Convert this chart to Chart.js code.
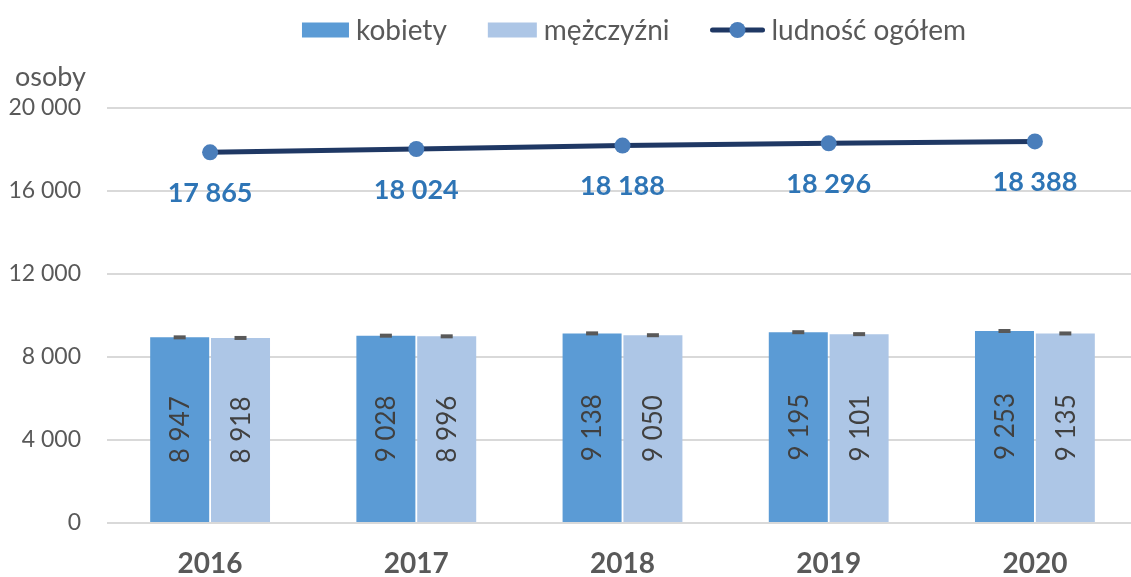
<!DOCTYPE html>
<html lang="pl">
<head>
<meta charset="utf-8">
<title>Ludność 2016–2020</title>
<script src="https://cdn.jsdelivr.net/npm/chart.js@4.4.1/dist/chart.umd.min.js"></script>
<style>
  html, body { margin: 0; padding: 0; background: #fff; overflow: hidden; }
  #wrap { position: relative; width: 1131px; height: 577px; overflow: hidden; }
  canvas { position: absolute; left: 0; top: 0; }
</style>
</head>
<body>
<div id="wrap">
  <canvas id="chart" width="1146" height="577"></canvas>
</div>
<script>
const years = ['2016', '2017', '2018', '2019', '2020'];
const women = [8947, 9028, 9138, 9195, 9253];
const men = [8918, 8996, 9050, 9101, 9135];
const total = [17865, 18024, 18188, 18296, 18388];
const yMax = 20000;
const yStep = 4000;
const unitLabel = 'osoby';

const colWomen = '#5b9bd5';
const colMen = '#adc6e6';
const colLine = '#1f3864';
const colPoint = '#4a7ebb';
const colLabel = '#2e75b6';
const colText = '#595959';
const fontFamily = 'Lato, "Open Sans", sans-serif';

// liczby z odstępem tysięcy, jak w oryginale
function fmt(v) {
  return String(v).replace(/\B(?=(\d{3})+(?!\d))/g, ' ');
}

const legendPlugin = {
  id: 'customLegend',
  afterDraw(chart) {
    const ctx = chart.ctx;
    const items = chart.data.datasets.map((ds) => ({ text: ds.label, ds }));
    ctx.save();
    ctx.font = '28px ' + fontFamily;
    ctx.textBaseline = 'middle';
    const iconW = [47, 49, 54];
    const textGap = 7;
    const itemGap = 41;
    let totalW = 0;
    items.forEach((it, i) => {
      it.w = iconW[i] + textGap + ctx.measureText(it.text).width;
      totalW += it.w + (i ? itemGap : 0);
    });
    let x = 634 - totalW / 2;
    const y = 30;
    items.forEach((it, i) => {
      if (it.ds.type === 'line') {
        ctx.strokeStyle = colLine;
        ctx.lineWidth = 5;
        ctx.lineCap = 'round';
        ctx.beginPath();
        ctx.moveTo(x + 2, y);
        ctx.lineTo(x + iconW[i] - 2, y);
        ctx.stroke();
        ctx.fillStyle = colPoint;
        ctx.beginPath();
        ctx.arc(x + iconW[i] / 2, y, 8, 0, Math.PI * 2);
        ctx.fill();
      } else {
        ctx.fillStyle = it.ds.backgroundColor;
        ctx.fillRect(x, y - 7.5, iconW[i], 15);
      }
      ctx.fillStyle = colText;
      ctx.textAlign = 'left';
      ctx.fillText(it.text, x + iconW[i] + textGap, y + 1);
      x += it.w + itemGap;
    });
    // jednostka nad osią Y
    ctx.font = '27px ' + fontFamily;
    ctx.fillText(unitLabel, 15, 77);
    ctx.restore();
  }
};

const labelsPlugin = {
  id: 'valueLabels',
  afterDatasetsDraw(chart) {
    const ctx = chart.ctx;
    ctx.save();
    chart.data.datasets.forEach((ds, di) => {
      const meta = chart.getDatasetMeta(di);
      meta.data.forEach((el, i) => {
        const v = ds.data[i];
        if (ds.type === 'line') {
          ctx.font = 'bold 27px ' + fontFamily;
          ctx.fillStyle = colLabel;
          ctx.textAlign = 'center';
          ctx.textBaseline = 'middle';
          ctx.fillText(fmt(v), el.x, el.y + 41);
        } else {
          // znacznik na szczycie słupka
          ctx.fillStyle = '#595959';
          ctx.fillRect(el.x - 6, el.y - 2, 12, 4);
          ctx.save();
          ctx.translate(el.x, (el.y + el.base) / 2);
          ctx.rotate(-Math.PI / 2);
          ctx.font = '26px ' + fontFamily;
          ctx.fillStyle = '#404040';
          ctx.textAlign = 'center';
          ctx.textBaseline = 'middle';
          ctx.fillText(fmt(v), 0, 1);
          ctx.restore();
        }
      });
    });
    ctx.restore();
  }
};

function build() {
  new Chart(document.getElementById('chart'), {
    type: 'bar',
    data: {
      labels: years,
      datasets: [
        {
          type: 'bar',
          label: 'kobiety',
          data: women,
          backgroundColor: colWomen,
          barPercentage: 0.97,
          categoryPercentage: 0.59
        },
        {
          type: 'bar',
          label: 'mężczyźni',
          data: men,
          backgroundColor: colMen,
          barPercentage: 0.97,
          categoryPercentage: 0.59
        },
        {
          type: 'line',
          label: 'ludność ogółem',
          data: total,
          borderColor: colLine,
          borderWidth: 5,
          pointRadius: 8,
          pointBorderWidth: 0,
          pointBackgroundColor: colPoint,
          tension: 0
        }
      ]
    },
    options: {
      responsive: false,
      devicePixelRatio: 1,
      animation: false,
      layout: { padding: { top: 108, right: 0, bottom: 0, left: 0 } },
      plugins: {
        legend: { display: false },
        tooltip: { enabled: false }
      },
      scales: {
        x: {
          afterFit(scale) { scale.height = 54; },
          grid: { display: false, drawTicks: false },
          border: { display: false },
          ticks: {
            color: colText,
            padding: 27,
            font: { family: fontFamily, size: 28, weight: 'bold', lineHeight: 1 }
          }
        },
        y: {
          min: 0,
          max: yMax,
          afterFit(scale) { scale.width = 107; },
          grid: { color: '#d9d9d9', lineWidth: 2, drawTicks: false },
          border: { display: false },
          ticks: {
            stepSize: yStep,
            color: colText,
            padding: 26,
            font: { family: fontFamily, size: 23 },
            callback: (v) => fmt(v)
          }
        }
      }
    },
    plugins: [legendPlugin, labelsPlugin]
  });
}

document.fonts.load('23px Lato').then(build, build);
</script>
</body>
</html>
